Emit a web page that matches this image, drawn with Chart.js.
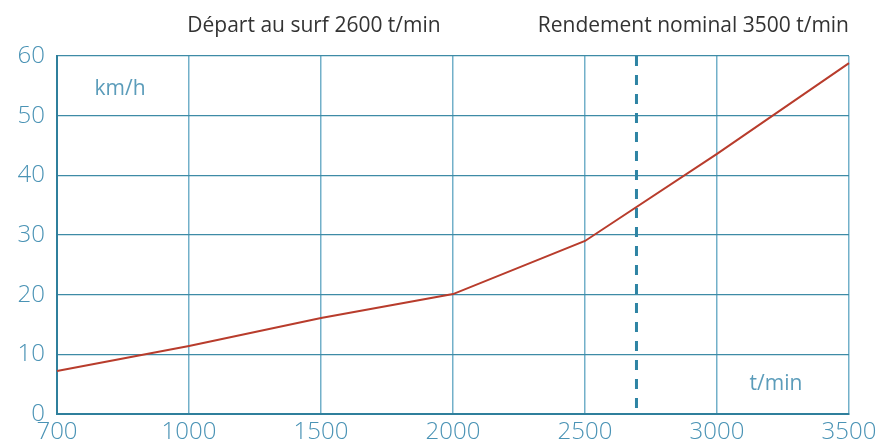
<!DOCTYPE html>
<html>
<head>
<meta charset="utf-8">
<script src="https://cdn.jsdelivr.net/npm/chart.js@4"></script>
<style>
  html, body { margin: 0; padding: 0; background: #fff; }
  #wrap { width: 876px; height: 448px; position: relative; }
</style>
</head>
<body>
<div id="wrap"><canvas id="speedChart"></canvas></div>
<script>
// ================== Data ==================
const rpmLabels = ['700', '1000', '1500', '2000', '2500', '3000', '3500'];
const speedValues = [7.2, 11.4, 16.1, 20.1, 29.0, 43.6, 58.8];
const yTicks = [0, 10, 20, 30, 40, 50, 60];
const markerIndex = 4.39; // dashed marker, between 2500 and 3000
const headerLeft = 'Départ au surf 2600 t/min';
const headerRight = 'Rendement nominal 3500 t/min';
const yUnit = 'km/h';
const xUnit = 't/min';

const FONT = '"Open Sans", "Noto Sans", sans-serif';
const tickBlue = '#4a93b5';

// ================== Annotations plugin ==================
const annotations = {
  id: 'annotations',
  beforeDatasetsDraw(chart) {
    const { ctx, chartArea, scales } = chart;
    const x = scales.x.getPixelForValue(markerIndex);
    ctx.save();
    ctx.strokeStyle = '#2e84a4';
    ctx.lineWidth = 3;
    ctx.setLineDash([10, 9]);
    ctx.beginPath();
    ctx.moveTo(x, chartArea.top);
    ctx.lineTo(x, chartArea.bottom);
    ctx.stroke();
    ctx.restore();
  },
  afterDraw(chart) {
    const { ctx, chartArea } = chart;
    ctx.save();
    ctx.textBaseline = 'middle';
    // header texts
    ctx.fillStyle = '#333';
    ctx.font = '21px ' + FONT;
    ctx.textAlign = 'center';
    ctx.fillText(headerLeft, 314, 26);
    ctx.textAlign = 'right';
    ctx.fillText(headerRight, chartArea.right, 26);
    // unit labels
    ctx.fillStyle = '#5b9cba';
    ctx.font = '21px ' + FONT;
    ctx.textAlign = 'center';
    ctx.fillText(yUnit, 120, 89);
    ctx.fillText(xUnit, 776, 384);
    ctx.restore();
  }
};

// ================== Chart ==================
new Chart(document.getElementById('speedChart'), {
  type: 'line',
  data: {
    labels: rpmLabels,
    datasets: [{
      data: speedValues,
      borderColor: '#b83c2c',
      borderWidth: 2,
      pointRadius: 0,
      tension: 0,
      fill: false
    }]
  },
  options: {
    responsive: true,
    maintainAspectRatio: false,
    animation: false,
    layout: { padding: { top: 56, right: 27, left: 0, bottom: 0 } },
    plugins: {
      legend: { display: false },
      tooltip: { enabled: false }
    },
    scales: {
      x: {
        afterFit: s => { s.height = 34; s.paddingLeft = 0; s.paddingRight = 0; },
        grid: { color: '#72b0c9', lineWidth: 1.5, drawTicks: false },
        border: { color: '#2f7f9c', width: 2 },
        ticks: {
          color: tickBlue,
          font: { family: FONT, size: 24, weight: '300' },
          padding: 4,
          maxRotation: 0,
          autoSkip: false
        }
      },
      y: {
        min: 0,
        max: 60,
        afterFit: s => { s.width = 57; s.paddingTop = 0; s.paddingBottom = 0; },
        afterBuildTicks: s => { s.ticks = yTicks.map(v => ({ value: v })); },
        grid: { color: '#3e8ba6', lineWidth: 1.2, drawTicks: false },
        border: { color: '#2f7f9c', width: 2 },
        ticks: {
          color: tickBlue,
          font: { family: FONT, size: 24, weight: '300' },
          padding: 12
        }
      }
    }
  },
  plugins: [annotations]
});
</script>
</body>
</html>
